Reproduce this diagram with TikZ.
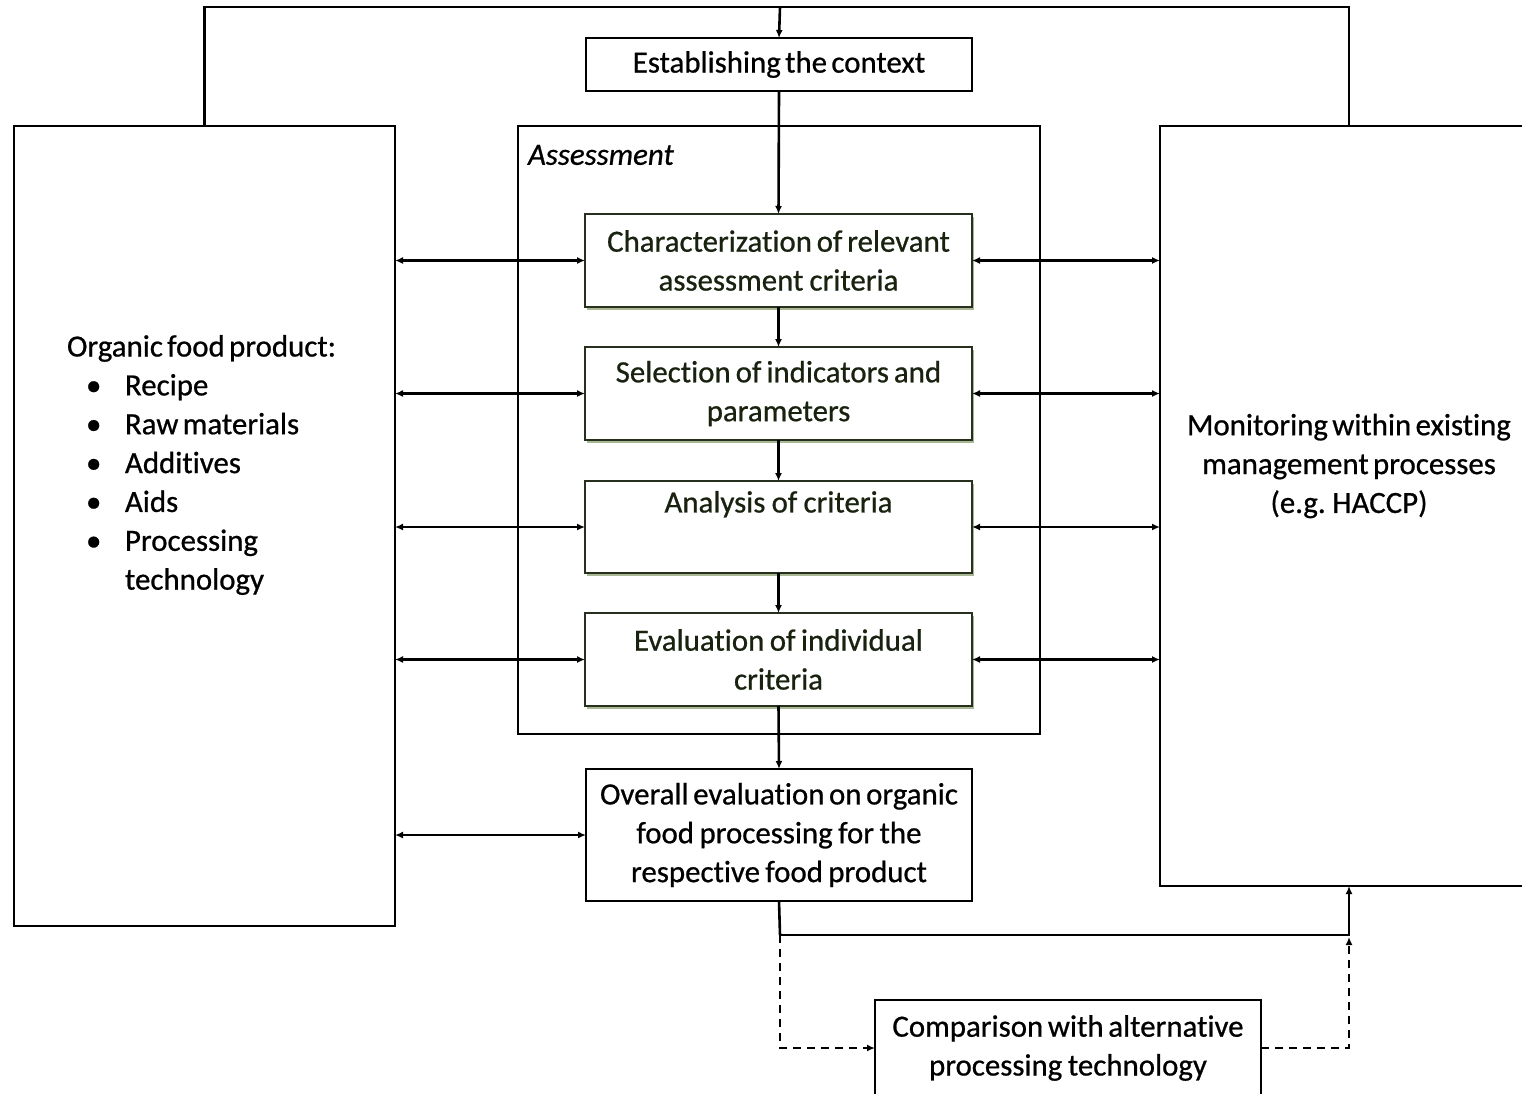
\documentclass[tikz,border=0pt]{standalone}
\usepackage{fontspec}
\setmainfont{Carlito}[WordSpace=0.6,FakeBold=0.7,Ligatures=NoCommon]
\usetikzlibrary{arrows.meta,shadows,calc}
\definecolor{gborder}{HTML}{26301C}
\definecolor{gshadow}{HTML}{A8B894}
\definecolor{gtext}{HTML}{18220F}
\begin{document}
\begin{tikzpicture}[x=1bp,y=-1bp,
  every node/.style={inner sep=0pt,outer sep=0pt,font=\fontsize{31}{39}\selectfont,
     execute at begin node={\spaceskip=0.14em plus 0.05em\relax}},
  plainbox/.style={draw=black,line width=2.4bp,fill=white,align=center,text width=380bp},
  greenbox/.style={draw=gborder,line width=2.4bp,fill=white,align=center,text width=380bp,text=gtext,
     minimum width=387bp,minimum height=93bp,
     drop shadow={shadow xshift=1.5bp,shadow yshift=-2.5bp,fill=gshadow,opacity=1}},
  conn/.style={line width=2.6bp,draw=black},
  tip/.style={-{Latex[length=8bp,width=7bp]}},
  dtip/.style={{Latex[length=8bp,width=7bp]}-{Latex[length=8bp,width=7bp]}},
  dash line/.style={line width=2.6bp,dash pattern=on 8bp off 6bp}
]
\clip (0,0) rectangle (1522,1093);
\useasboundingbox (0,0) rectangle (1522,1093);
\fill[white] (0,0) rectangle (1522,1093);

% big side boxes
\node[plainbox,minimum width=381bp,minimum height=800bp,text width=0pt] (lbox) at (204.5,526) {};
\node[plainbox,minimum width=372bp,minimum height=760bp,text width=0pt] (rbox) at (1346,506) {};
\node[plainbox,minimum width=522bp,minimum height=608bp,text width=0pt] (assess) at (779,430) {};

\node[anchor=west,font=\fontsize{31}{39}\itshape\selectfont] (alabel) at (528,155) {Assessment};

% center boxes
\node[plainbox,minimum width=386bp,minimum height=53bp] (est) at (779,64.5) {\raisebox{-2bp}{Establishing the context}};
\node[greenbox] (char) at (778.5,260.5) {Characterization of relevant\\assessment criteria};
\node[greenbox] (sel) at (778.5,393.5) {Selection of indicators and\\parameters};
\node[greenbox,minimum height=92bp] (ana) at (778.5,527) {Analysis of criteria\\\strut};
\node[greenbox] (eva) at (778.5,659.5) {Evaluation of individual\\criteria};
\node[plainbox,minimum width=386bp,minimum height=132bp] (over) at (779,835) {Overall evaluation on organic\\food processing for the\\respective food product};
\node[plainbox,minimum width=386bp,minimum height=96bp] (comp) at (1068,1048) {Comparison with alternative\\processing technology};

% side texts
\node[anchor=west,align=left] (ltext) at (67,465) {Organic food product:\\
\makebox[58bp][l]{\hspace{19bp}•}Recipe\\
\makebox[58bp][l]{\hspace{19bp}•}Raw materials\\
\makebox[58bp][l]{\hspace{19bp}•}Additives\\
\makebox[58bp][l]{\hspace{19bp}•}Aids\\
\makebox[58bp][l]{\hspace{19bp}•}Processing\\
\makebox[58bp][l]{}technology};
\node[align=center] (rtext) at (1349,466) {Monitoring within existing\\management processes\\(e.g. HACCP)};

% coordinates
\coordinate (top) at (780,7);
\coordinate (rx) at (1349,0);
\coordinate (j) at (780,935);

% top loop
\draw[conn] (lbox.north) |- (top) -| (rbox.north -| rx);
\draw[conn,tip] (top) -- (est.north);
\draw[conn,tip] (est.south) -- (char.north);

% vertical chain
\draw[conn,tip] (char.south) -- (sel.north);
\draw[conn,tip] (sel.south) -- (ana.north);
\draw[conn,tip] (ana.south) -- (eva.north);
\draw[conn,tip] (eva.south) -- (over.north);

% side double arrows
\foreach \n in {char,sel,ana,eva}{
  \draw[conn,dtip] (lbox.east |- \n.west) -- (\n.west);
  \draw[conn,dtip] (\n.east) -- (rbox.west |- \n.east);
}
\draw[conn,dtip] (lbox.east |- over.west) -- (over.west);

% bottom connections
\draw[conn] (over.south) -- (j);
\draw[conn,tip] (j) -| (rbox.south -| rx);
\draw[dash line,tip] (j) |- (comp.west);
\draw[dash line,tip] (comp.east) -| ($(j -| rx)+(0,2)$);
\end{tikzpicture}
\end{document}
